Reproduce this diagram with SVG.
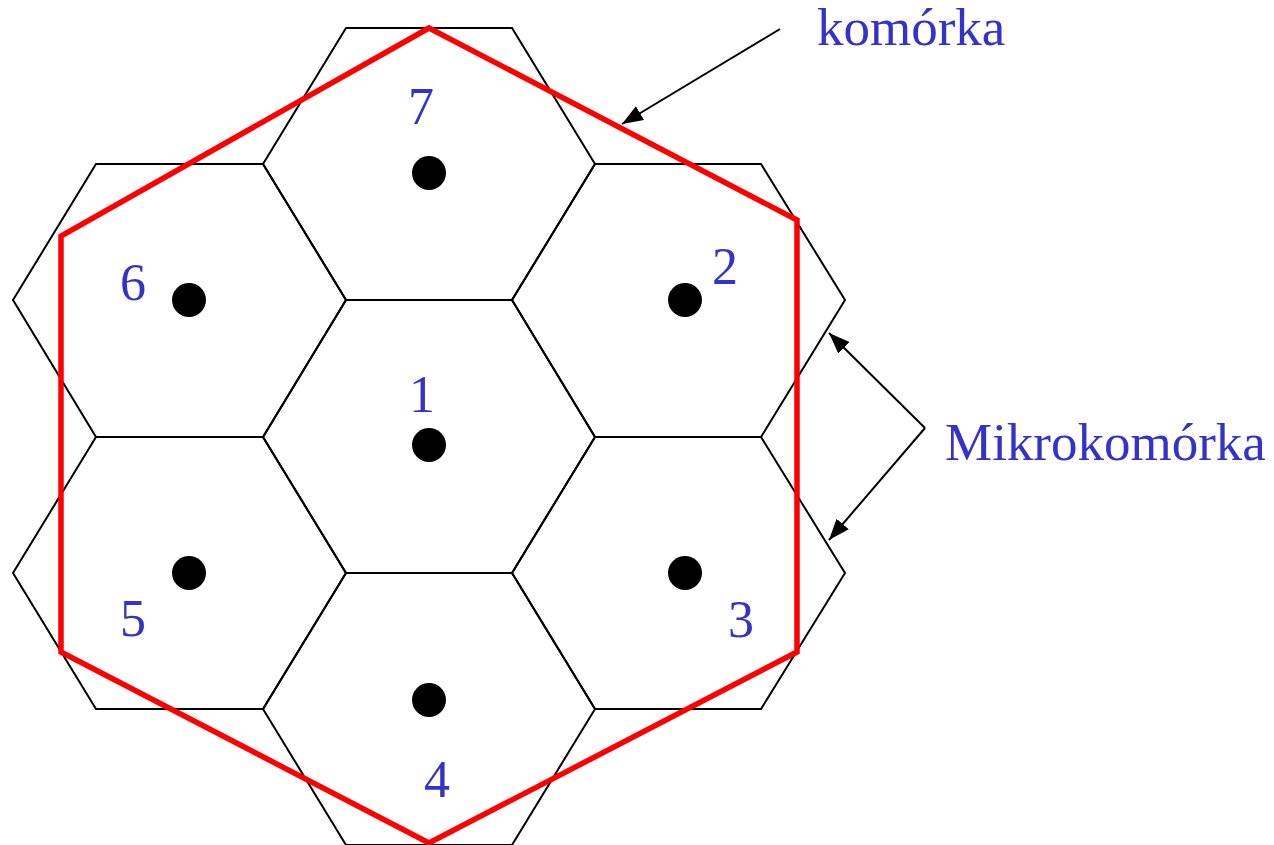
<svg xmlns="http://www.w3.org/2000/svg" width="1274" height="845" viewBox="0 0 1274 845">
<style>
.hex{fill:none;stroke:#000;stroke-width:2;stroke-linejoin:miter}
.dot{fill:#000}
.lbl{font-family:"Liberation Serif","Times New Roman",serif;font-size:52px;fill:#3333cc;text-anchor:middle}
.big{font-family:"Liberation Serif","Times New Roman",serif;font-size:53px;fill:#3333cc}
.arr{fill:none;stroke:#000;stroke-width:2;marker-end:url(#ah)}
</style>
<defs>
<marker id="ah" markerUnits="userSpaceOnUse" markerWidth="24" markerHeight="18" refX="21" refY="8" orient="auto">
<path d="M0,0 L21,8 L0,16 Z" fill="#000"/>
</marker>
</defs>
<rect width="1274" height="845" fill="#fff"/>
<g id="cell1"><polygon class="hex" points="346,300 512,300 595,437 512,573 346,573 263,437"/><circle class="dot" cx="429" cy="445" r="17"/><text class="lbl" x="422" y="412">1</text></g>
<g id="cell7"><polygon class="hex" points="346,28 512,28 595,164 512,300 346,300 263,164"/><circle class="dot" cx="429" cy="173" r="17"/><text class="lbl" x="421" y="124">7</text></g>
<g id="cell2"><polygon class="hex" points="595,164 761,164 845,300 761,437 595,437 512,300"/><circle class="dot" cx="685" cy="300" r="17"/><text class="lbl" x="725" y="284">2</text></g>
<g id="cell3"><polygon class="hex" points="595,437 761,437 845,573 761,709 595,709 512,573"/><circle class="dot" cx="685" cy="573" r="17"/><text class="lbl" x="741" y="637">3</text></g>
<g id="cell4"><polygon class="hex" points="346,573 512,573 595,709 512,845 346,845 263,709"/><circle class="dot" cx="429" cy="700" r="17"/><text class="lbl" x="437" y="797">4</text></g>
<g id="cell5"><polygon class="hex" points="96,437 263,437 346,573 263,709 96,709 13,573"/><circle class="dot" cx="189" cy="573" r="17"/><text class="lbl" x="133" y="636">5</text></g>
<g id="cell6"><polygon class="hex" points="96,164 263,164 346,300 263,437 96,437 13,300"/><circle class="dot" cx="189" cy="300" r="17"/><text class="lbl" x="133" y="300">6</text></g>
<g id="macrocell"><polygon points="429,28 797,220 797,652 429,843 61,652 61,236" fill="none" stroke="#ff0000" stroke-width="5.5"/></g>
<g id="connectors">
<line class="arr" x1="780" y1="29" x2="622" y2="124"/>
<polyline class="arr" points="925,428 829,333"/>
<polyline class="arr" points="925,428 829,540"/>
</g>
<g id="labels">
<text class="big" x="817" y="45">komórka</text>
<text class="big" x="945" y="460">Mikrokomórka</text>
</g>
</svg>
